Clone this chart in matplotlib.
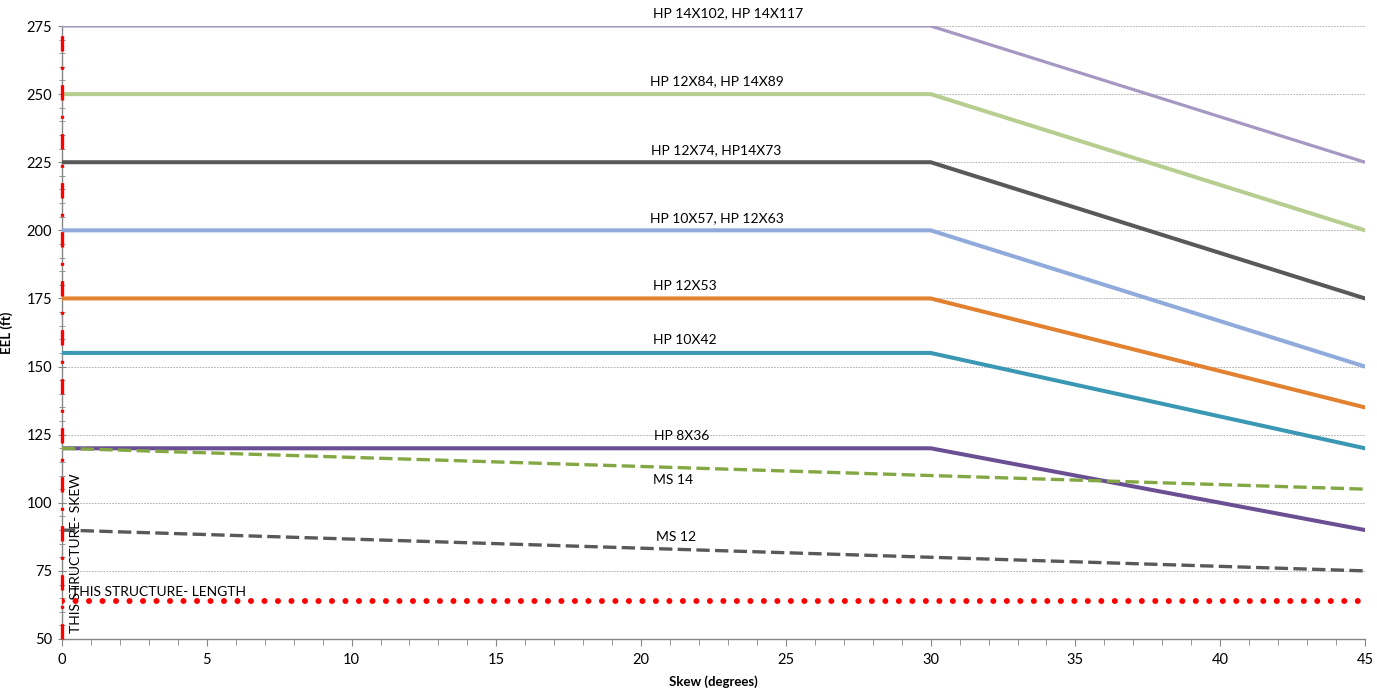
import matplotlib
matplotlib.use("Agg")
import matplotlib.pyplot as plt
from matplotlib.ticker import MultipleLocator

plt.rcParams['font.family'] = ['Lato', 'DejaVu Sans']

# ---- data ----
skew = [0, 30, 45]
series_names = ["HP 14X102, HP 14X117", "HP 12X84, HP 14X89", "HP 12X74, HP14X73",
                "HP 10X57, HP 12X63", "HP 12X53", "HP 10X42", "HP 8X36", "MS 14", "MS 12"]
series_values = [
    [275, 275, 225],
    [250, 250, 200],
    [225, 225, 175],
    [200, 200, 150],
    [175, 175, 135],
    [155, 155, 120],
    [120, 120, 90],
    [120, 110, 105],
    [90, 80, 75],
]
series_colors = ["#A598C2", "#B6CE8F", "#595959", "#8FAADB", "#E2812F", "#3A98B4",
                 "#6A4F93", "#83A843", "#595959"]
series_dashed = [False] * 7 + [True, True]
label_x = [23.0, 22.6, 22.6, 22.6, 21.5, 21.5, 21.4, 21.1, 21.2]
label_above = [True] * 7 + [False, True]

structure_length = 64
structure_skew = 0
x_range = [0, 45]
y_range = [50, 275]

fig = plt.figure(figsize=(13.77, 6.92), dpi=100)
ax = fig.add_axes([62 / 1377, 1 - 639 / 692, (1365 - 62) / 1377, (639 - 26) / 692])

ax.set_xlim(*x_range)
ax.set_ylim(*y_range)

for name, vals, col, dsh, lx, above in zip(series_names, series_values, series_colors,
                                          series_dashed, label_x, label_above):
    lw = 2.3 if name.startswith("HP 14X102") else 2.9
    if dsh:
        ax.plot(skew, vals, color=col, lw=2.4, linestyle=(0, (4.0, 1.6)), zorder=3,
                solid_joinstyle='round')
    else:
        ax.plot(skew, vals, color=col, lw=lw, zorder=3, solid_joinstyle='round')
    # value along the line at label x
    if lx <= skew[1]:
        yv = vals[0] + (vals[1] - vals[0]) * (lx - skew[0]) / (skew[1] - skew[0])
    else:
        yv = vals[1] + (vals[2] - vals[1]) * (lx - skew[1]) / (skew[2] - skew[1])
    ax.annotate(name, (lx, yv), xytext=(0, 9 if above else -9), textcoords='offset points',
                ha='center', va='center', fontsize=10, color='#000000',
                annotation_clip=False, zorder=5)

# This structure - length (red dotted horizontal)
ax.plot(x_range, [structure_length, structure_length], color='#FF0000', lw=4.3,
        linestyle=(0, (0.01, 2.25)), dash_capstyle='round', zorder=4)
# This structure - skew (red dash-dot vertical)
ax.plot([structure_skew, structure_skew], y_range, color='#FF0000', lw=2.4,
        linestyle=(0, (4.6, 4.6, 0.9, 4.6)), zorder=4, clip_on=False)

ax.text(0.3, structure_length + 1.2, "THIS STRUCTURE- LENGTH", fontsize=10,
        ha='left', va='bottom', zorder=5)
ax.text(0.5, 52.3, "THIS STRUCTURE- SKEW", fontsize=10, rotation=90,
        ha='center', va='bottom', zorder=5)

# axes styling
ax.xaxis.set_major_locator(MultipleLocator(5))
ax.xaxis.set_minor_locator(MultipleLocator(1))
ax.yaxis.set_major_locator(MultipleLocator(25))
ax.yaxis.set_minor_locator(MultipleLocator(5))
ax.grid(axis='y', which='major', color='#A6A6A6', linestyle=(0, (2, 1.5)), lw=0.6, zorder=0)
for s in ['top', 'right']:
    ax.spines[s].set_visible(False)
for s in ['left', 'bottom']:
    ax.spines[s].set_color('#868686')
    ax.spines[s].set_linewidth(1.0)
ax.tick_params(axis='x', which='major', direction='out', length=5, color='#868686',
               labelsize=10.5, pad=5)
ax.tick_params(axis='x', which='minor', direction='out', length=4, color='#868686')
ax.tick_params(axis='y', which='major', direction='inout', length=6, color='#868686',
               labelsize=10.5, pad=4)
ax.tick_params(axis='y', which='minor', direction='inout', length=4, color='#868686')

ax.set_xlabel("Skew (degrees)", fontsize=9.5, fontweight='bold', labelpad=6)
ax.set_ylabel("EEL (ft)", fontsize=9.5, fontweight='bold', labelpad=10)

fig.savefig("out.png", dpi=100)
